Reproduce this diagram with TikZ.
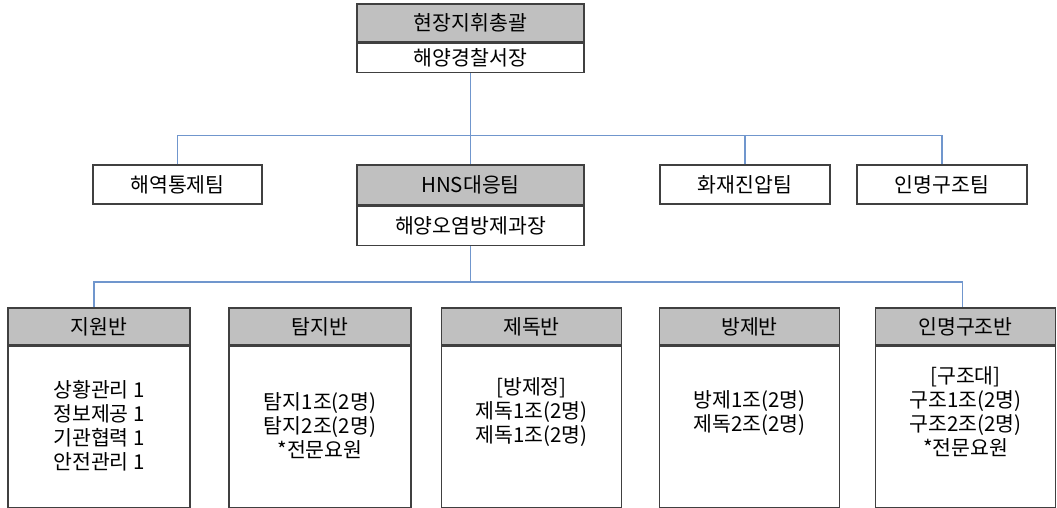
\documentclass[tikz,border=0pt]{standalone}
\usepackage{fontspec}
\setmainfont{Noto Sans CJK KR}
\definecolor{boxline}{RGB}{64,64,64}
\definecolor{headgray}{RGB}{192,192,192}
\definecolor{wire}{RGB}{112,150,205}
\begin{document}
\begin{tikzpicture}[x=1pt,y=-1pt,
    every node/.style={inner sep=0pt, font=\fontsize{20.5}{24}\selectfont},
    head/.style={draw=boxline, fill=headgray, line width=1.5pt},
    sub/.style={draw=boxline, fill=white, line width=1.5pt},
    txt/.style={align=center},
    wire/.style={draw=wire, line width=1.5pt}]
    \useasboundingbox (0,0) rectangle (1057,508);
    \node [head, minimum width=227, minimum height=38] (hq) at (470.5,23) {현장지휘총괄};
    \node [sub, minimum width=227, minimum height=29, anchor=north] (hqsub) at (hq.south) {해양경찰서장};
    \node [sub, minimum width=169, minimum height=39] (sea) at (177.5,184.5) {해역통제팀};
    \node [head, minimum width=227, minimum height=40] (hns) at (470.5,185) {HNS대응팀};
    \node [sub, minimum width=227, minimum height=39, anchor=north] (hnssub) at (hns.south) {해양오염방제과장};
    \node [sub, minimum width=170, minimum height=39] (fire) at (745,184.5) {화재진압팀};
    \node [sub, minimum width=170, minimum height=39] (life) at (942,184.5) {인명구조팀};
    \node [head, minimum width=182, minimum height=37] (sup) at (99,326.5) {지원반};
    \node [sub, minimum width=182, minimum height=161, anchor=north] (supbody) at (sup.south) {};
    \node [txt] (suptxt) at (99,426) {상황관리 1\\정보제공 1\\기관협력 1\\안전관리 1};
    \node [head, minimum width=182, minimum height=37] (det) at (320,326.5) {탐지반};
    \node [sub, minimum width=182, minimum height=161, anchor=north] (detbody) at (det.south) {};
    \node [txt] (dettxt) at (320,426) {탐지1조(2명)\\탐지2조(2명)\\*전문요원};
    \node [head, minimum width=180, minimum height=37] (dec) at (531.5,326.5) {제독반};
    \node [sub, minimum width=180, minimum height=161, anchor=north] (decbody) at (dec.south) {};
    \node [txt] (dectxt) at (531.5,412) {[방제정]\\제독1조(2명)\\제독1조(2명)};
    \node [head, minimum width=180, minimum height=37] (ctl) at (749.5,326.5) {방제반};
    \node [sub, minimum width=180, minimum height=161, anchor=north] (ctlbody) at (ctl.south) {};
    \node [txt] (ctltxt) at (749.5,413) {방제1조(2명)\\제독2조(2명)};
    \node [head, minimum width=180, minimum height=37] (res) at (965.5,326.5) {인명구조반};
    \node [sub, minimum width=180, minimum height=161, anchor=north] (resbody) at (res.south) {};
    \node [txt] (restxt) at (965.5,412) {[구조대]\\구조1조(2명)\\구조2조(2명)\\*전문요원};
    \coordinate (bus1) at (470.5,135.5);
    \coordinate (bus2) at (470.5,282);
    \draw [wire] (hqsub.south) -- (hns.north);
    \draw [wire] (sea.north) |- (bus1) -| (life.north);
    \draw [wire] (fire.north) -- (fire.north |- bus1);
    \draw [wire] (hnssub.south) -- (bus2);
    \draw [wire] ([xshift=-5pt]sup.north) |- (bus2) -| ([xshift=-3pt]res.north);
\end{tikzpicture}
\end{document}
